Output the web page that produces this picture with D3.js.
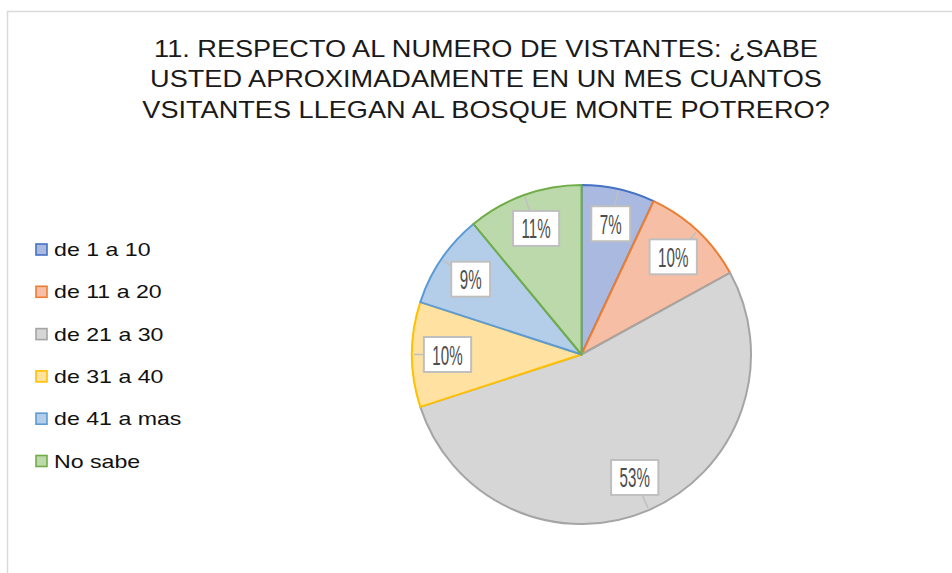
<!DOCTYPE html>
<html><head><meta charset="utf-8">
<script src="https://cdn.jsdelivr.net/npm/d3@7"></script>
<style>body{margin:0;background:#fff}svg{display:block}</style>
</head><body>
<svg id="c" width="952" height="573"></svg>
<script>
const titleLines = ["11. RESPECTO AL NUMERO DE VISTANTES: ¿SABE","USTED APROXIMADAMENTE EN UN MES CUANTOS","VSITANTES LLEGAN AL BOSQUE MONTE POTRERO?"];
const categories = ["de 1 a 10","de 11 a 20","de 21 a 30","de 31 a 40","de 41 a mas","No sabe"];
const values = [7,10,53,10,9,11];
const labels = ["7%","10%","53%","10%","9%","11%"];
const borderColors = ["#4472C4","#ED7D31","#A5A5A5","#FFC000","#5B9BD5","#70AD47"];
const fillTop = ["#aab9e0","#f6bea4","#d6d6d6","#ffe1a2","#b4ceea","#bcd9ab"];
const fillBottom = ["#8aa2d6","#f3a27d","#bdbdbd","#ffd070","#8fb6e2","#a2ca8b"];

const svg = d3.select("#c");
const W = 952, H = 573;
const cx = 581.5, cy = 354.5, R = 169.5;

// chart frame
svg.append("rect").attr("x",7.5).attr("y",11.5).attr("width",W).attr("height",H)
  .attr("fill","#fff").attr("stroke","#d9d9d9").attr("stroke-width",1.5);

// title
const title = svg.append("g").attr("transform","translate(486,0) scale(1.165,1)")
  .append("text").attr("text-anchor","middle")
  .attr("font-family","Liberation Sans, Arial, sans-serif").attr("font-size",23.3).attr("fill","#1a1a1a");
titleLines.forEach((t,i)=>title.append("tspan").attr("x",0).attr("y",56.7+i*30.8).text(t));

// gradients
const defs = svg.append("defs");
categories.forEach((c,i)=>{
  const g = defs.append("linearGradient").attr("id","g"+i).attr("gradientUnits","userSpaceOnUse")
    .attr("x1",0).attr("y1",cy-R).attr("x2",0).attr("y2",cy+R);
  g.append("stop").attr("offset",0).attr("stop-color",fillTop[i]);
  g.append("stop").attr("offset",1).attr("stop-color",fillBottom[i]);
});

// pie
const pie = d3.pie().sort(null).value(d=>d)(values);
const arc = d3.arc().innerRadius(0).outerRadius(R);
const labelArc = d3.arc().innerRadius(134).outerRadius(134);
const edgeArc = d3.arc().innerRadius(R-2).outerRadius(R-2);
const g = svg.append("g").attr("transform",`translate(${cx},${cy})`);
g.selectAll("path.slice").data(pie).join("path").attr("class","slice")
  .attr("d",arc).attr("fill",(d,i)=>`url(#g${i})`)
  .attr("stroke",(d,i)=>borderColors[i]).attr("stroke-width",2).attr("stroke-linejoin","round");

// leader lines
g.selectAll("line.lead").data(pie).join("line").attr("class","lead")
  .attr("x1",d=>edgeArc.centroid(d)[0]).attr("y1",d=>edgeArc.centroid(d)[1])
  .attr("x2",d=>labelArc.centroid(d)[0]).attr("y2",d=>labelArc.centroid(d)[1])
  .attr("stroke","#bfbfbf").attr("stroke-width",1.5);

// labels
const sx = 0.55;
const lg = g.selectAll("g.lab").data(pie).join("g").attr("class","lab")
  .attr("transform",d=>`translate(${labelArc.centroid(d)})`);
const rects = lg.append("rect").attr("fill","#fff").attr("stroke","#bfbfbf").attr("stroke-width",2);
const texts = lg.append("text").attr("transform",`scale(${sx},1)`).attr("text-anchor","middle")
  .attr("y",10).attr("font-family","Liberation Sans, Arial, sans-serif").attr("font-size",27.5)
  .attr("fill","#4d4d4d").text((d,i)=>labels[i]);
texts.each(function(d,i){
  const w = this.getComputedTextLength()*sx + 17;
  d3.select(rects.nodes()[i]).attr("x",-w/2).attr("y",-17.5).attr("width",w).attr("height",35);
});

// legend
const leg = svg.append("g");
categories.forEach((c,i)=>{
  const y = 249.5 + i*42.3;
  leg.append("rect").attr("x",36).attr("y",y-5.5).attr("width",11).attr("height",11)
    .attr("fill",fillTop[i]).attr("stroke",borderColors[i]).attr("stroke-width",1.6);
  leg.append("g").attr("transform",`translate(54,${y+6.5}) scale(1.245,1)`)
    .append("text").attr("x",0).attr("y",0)
    .attr("font-family","Liberation Sans, Arial, sans-serif").attr("font-size",18.6).attr("fill","#111")
    .text(c);
});
</script>
</body></html>
